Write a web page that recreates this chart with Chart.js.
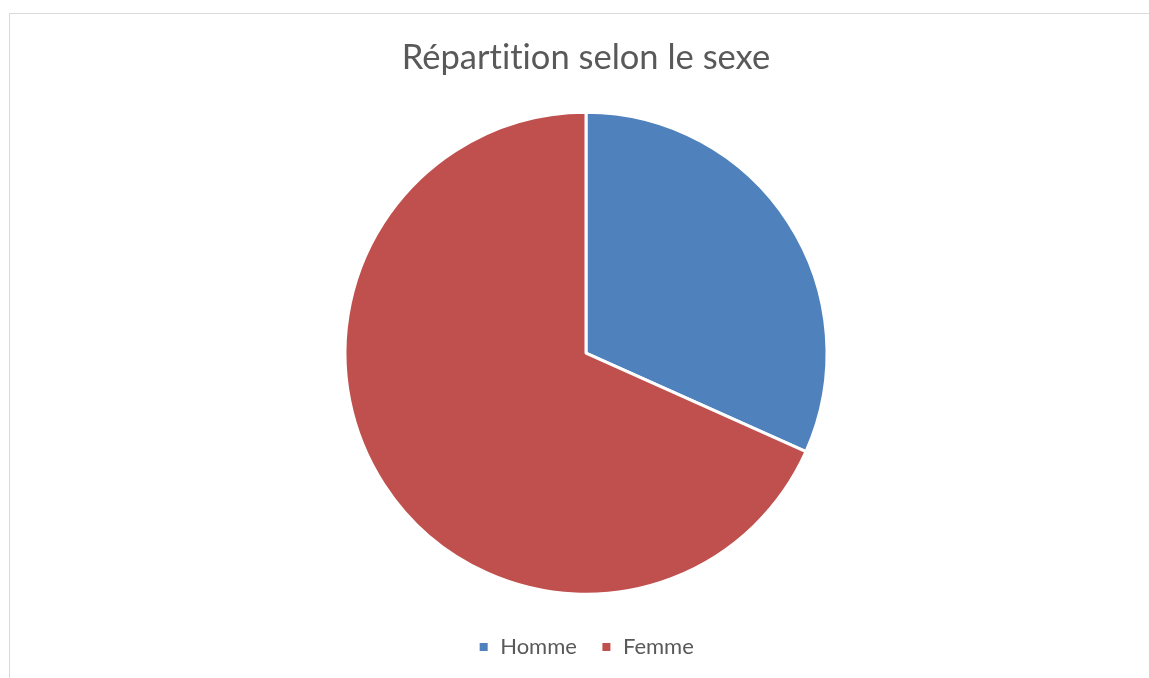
<!DOCTYPE html>
<html>
<head>
<meta charset="utf-8">
<script src="https://cdn.jsdelivr.net/npm/chart.js@4.4.1/dist/chart.umd.min.js"></script>
<style>
  html, body { margin: 0; padding: 0; background: #fff; overflow: hidden; }
  body { width: 1149px; height: 678px; position: relative; }
  #frame {
    position: absolute; left: 9px; top: 13px;
    width: 1154px; height: 680px;
    border: 1px solid #d9d9d9; box-sizing: border-box;
  }
  #wrap { position: absolute; left: 0; top: 0; width: 1152px; height: 654px; }
</style>
</head>
<body>
<div id="frame">
  <div id="wrap"><canvas id="pieSexe"></canvas></div>
</div>
<script>
// repartition par sexe
const labels = ['Homme', 'Femme'];
const values = [31.7, 68.3];
const colors = ['#4f81bd', '#c0504d'];
const titleText = 'Répartition selon le sexe';

const fontFamily = 'Lato, "Open Sans", sans-serif';

// pas de ligatures ("ti") dans le texte du canvas
const noLigatures = {
  id: 'noLigatures',
  beforeDraw(chart) {
    chart.ctx.textRendering = 'optimizeSpeed';
  }
};

new Chart(document.getElementById('pieSexe').getContext('2d'), {
  type: 'pie',
  data: {
    labels: labels,
    datasets: [{
      data: values,
      backgroundColor: colors,
      borderColor: '#ffffff',
      borderWidth: 3
    }]
  },
  options: {
    responsive: true,
    maintainAspectRatio: false,
    animation: false,
    radius: 241,
    layout: { padding: { top: 0, bottom: 0 } },
    plugins: {
      title: {
        display: true,
        text: titleText,
        color: '#595959',
        font: { family: fontFamily, size: 34.5, weight: 'normal' },
        padding: { top: 23, bottom: 16 }
      },
      legend: {
        position: 'bottom',
        labels: {
          color: '#595959',
          font: { family: fontFamily, size: 22 },
          boxWidth: 11,
          boxHeight: 11,
          padding: 24
        }
      },
      tooltip: { enabled: false }
    }
  },
  plugins: [noLigatures]
});
</script>
</body>
</html>
